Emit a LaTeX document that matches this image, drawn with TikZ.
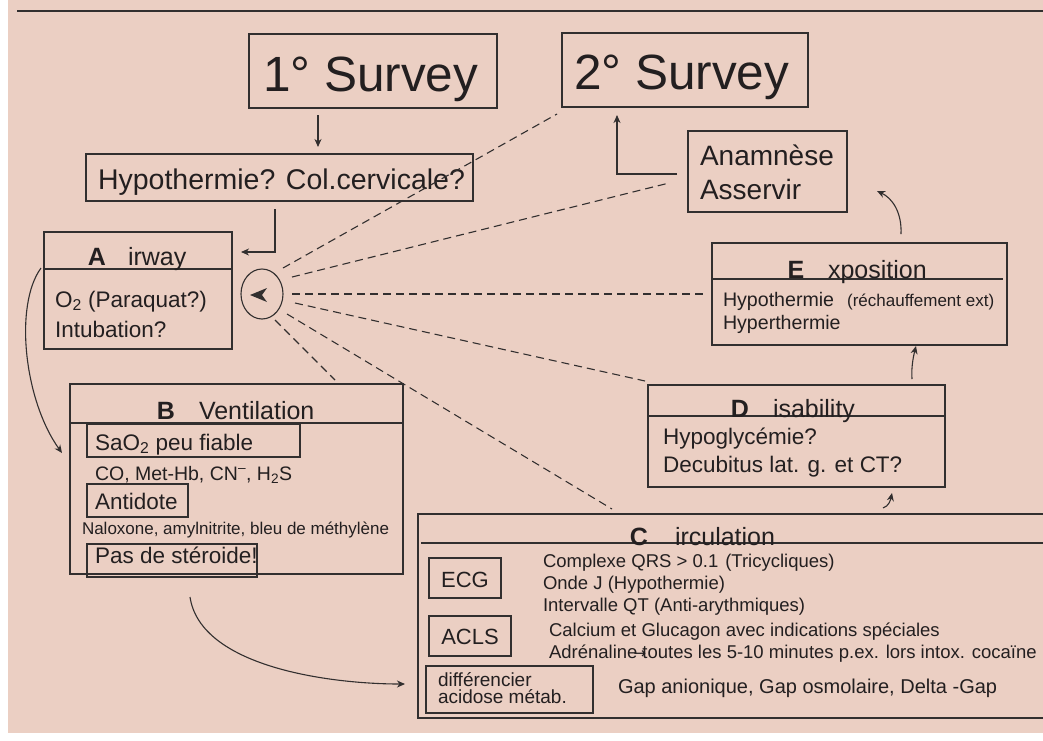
\documentclass[tikz,border=0pt]{standalone}
\usepackage{fontspec}
\setmainfont{Liberation Sans}
\newfontfamily\dejavu{DejaVu Sans}
\usetikzlibrary{arrows.meta,calc,shapes.geometric}
\definecolor{bg}{RGB}{235,207,195}
\definecolor{ln}{RGB}{50,47,47}
\definecolor{tx}{RGB}{35,31,32}
\newcommand{\fs}[1]{\fontsize{#1}{#1}\selectfont}
\begin{document}
\begin{tikzpicture}[x=1pt,y=-1pt,
  box/.style={draw=ln,line width=1.2pt,inner sep=0pt,outer sep=0pt},
  txt/.style={anchor=base west,inner sep=0pt,outer sep=0pt,text=tx},
  ctxt/.style={anchor=base,inner sep=0pt,outer sep=0pt,text=tx},
  ttl/.style={anchor=base,inner sep=0pt,outer sep=0pt,text=tx,font=\bfseries\fs{25}},
  arr/.style={draw=ln,line width=1.1pt,-{Stealth[length=8pt,width=7pt,inset=2.5pt]}},
  dl/.style={draw=ln,line width=1.1pt,dash pattern=on 8pt off 5pt},
  rule/.style={draw=ln,line width=1.2pt}
]
\useasboundingbox (0,0) rectangle (1043,740);
\fill[white] (0,0) rectangle (1043,740);
\fill[bg] (8,0) rectangle (1043,733);
\draw[rule] (17,11) -- (1043,11);

% boxes
\node[box,minimum width=248,minimum height=74] (s1) at (373,71) {};
\node[box,minimum width=246,minimum height=74] (s2) at (685,70) {};
\node[box,minimum width=387,minimum height=47] (hyp) at (279.5,177.5) {};
\node[box,minimum width=159,minimum height=81] (ana) at (767.5,171.5) {};
\node[box,minimum width=188,minimum height=117] (A) at (138,290.5) {};
\node[box,ellipse,minimum width=42,minimum height=50,line width=1.1pt] (circ) at (262,294) {};
\node[box,minimum width=333,minimum height=190] (B) at (236.5,479) {};
\node[box,minimum width=213,minimum height=33] (sat) at (193.5,440.5) {};
\node[box,minimum width=101,minimum height=33] (anti) at (137.5,500.5) {};
\node[box,minimum width=170,minimum height=33] (pas) at (172,560.5) {};
\node[box,minimum width=295,minimum height=102] (E) at (859.5,294) {};
\node[box,minimum width=297,minimum height=102] (D) at (796.5,436) {};
\node[box,minimum width=632,minimum height=204] (C) at (734,616) {};
\node[box,minimum width=72,minimum height=40] (ecg) at (465,578) {};
\node[box,minimum width=82,minimum height=40] (acls) at (470,636) {};
\node[box,minimum width=167,minimum height=47] (diff) at (509.5,689.5) {};

% header rules
\draw[rule] ($(A.north west)+(0,37)$) -- ($(A.north east)+(0,37)$);
\draw[rule] ($(B.north west)+(0,39)$) -- ($(B.north east)+(0,39)$);
\draw[rule] ($(E.north west)+(0,36)$) -- ($(E.north east)+(-4,36)$);
\draw[rule] ($(D.north west)+(0,31)$) -- ($(D.north east)+(0,31)$);
\draw[rule] ($(C.north west)+(3,29)$) -- ($(C.north east)+(0,29)$);

% texts
\node[txt,font=\fs{49.5}] (t1) at (263,91) {1° Survey};
\node[txt,font=\fs{49.5}] (t2) at (574,89) {2° Survey};
\node[txt,font=\fs{28.5}] (th) at (98,189) {Hypothermie? Col.cervicale?};
\node[txt,font=\fs{28}] (ta1) at (700,165) {Anamnèse};
\node[txt,font=\fs{28}] (ta2) at (700,199) {Asservir};

\node[ttl] (lA) at (97,265) {A};
\node[txt,font=\fs{25}] (wA) at (128,265) {irway};
\node[txt,font=\fs{22.5}] (a1) at (55,307) {O\textsubscript{2} (Paraquat?)};
\node[txt,font=\fs{22.5}] (a2) at (55,337) {Intubation?};

\node[ttl] (lB) at (166,419) {B};
\node[txt,font=\fs{25}] (wB) at (199,419) {Ventilation};
\node[txt,font=\fs{22.5}] (b1) at (95,450) {SaO\textsubscript{2} peu fiable};
\node[txt,font=\fs{19.5}] (b2) at (95,480) {CO, Met-Hb, CN\textsuperscript{–}, H\textsubscript{2}S};
\node[txt,font=\fs{22.5}] (b3) at (95,509) {Antidote};
\node[txt,font=\fs{17}] (b4) at (82,534) {Naloxone, amylnitrite, bleu de méthylène};
\node[txt,font=\fs{22.5}] (b5) at (95,563) {Pas de stéroide!};

\node[ttl] (lE) at (796,278) {E};
\node[txt,font=\fs{25}] (wE) at (828,278) {xposition};
\node[txt,font=\fs{19.6}] (e1) at (723,306) {Hypothermie\hspace{13pt}{\fs{17}(réchauffement ext)}};
\node[txt,font=\fs{19.6}] (e2) at (723,329) {Hyperthermie};

\node[ttl] (lD) at (740,417) {D};
\node[txt,font=\fs{25}] (wD) at (773,417) {isability};
\node[txt,font=\fs{22.5}] (d1) at (663,444) {Hypoglycémie?};
\node[txt,font=\fs{22.5}] (d2) at (663,472) {Decubitus lat. g. et CT?};

\node[ttl] (lC) at (639,545) {C};
\node[txt,font=\fs{25}] (wC) at (675,545) {irculation};
\node[ctxt,font=\fs{22}] (tecg) at (465,587) {ECG};
\node[ctxt,font=\fs{22}] (tacls) at (470,644) {ACLS};
\node[txt,font=\fs{19}] (f1) at (438,686) {différencier};
\node[txt,font=\fs{19}] (f2) at (438,703) {acidose métab.};
\node[txt,font=\fs{18.5}] (c1) at (543,567) {Complexe QRS > 0.1\hspace{7pt}(Tricycliques)};
\node[txt,font=\fs{18.5}] (c2) at (543,589) {Onde J (Hypothermie)};
\node[txt,font=\fs{18.5}] (c3) at (543,611) {Intervalle QT (Anti-arythmiques)};
\node[txt,font=\fs{18.5}] (c4) at (549,636) {Calcium et Glucagon avec indications spéciales};
\node[txt,font=\fs{18.5}] (c5) at (549,658) {Adrénaline\makebox[5pt][c]{\dejavu\fs{15}→}toutes les 5-10 minutes p.ex. lors intox. cocaïne};
\node[txt,font=\fs{20}] (c6) at (618,693) {Gap anionique, Gap osmolaire, Delta -Gap};

% arrowhead inside circle
\fill[ln] ($(circ.center)+(-12,1)$) -- ++(17,-7) -- ++(-5,7) -- ++(5,7) -- cycle;

% solid connectors
\draw[arr] ($(s1.south)+(-55,7)$) -- ($(hyp.north)+(38.5,-7)$);
\draw[arr] ($(hyp.south)+(-4.5,8)$) |- ($(A.north east)+(9,20)$);
\draw[arr] ($(ana.west)+(-11,2.5)$) -| ($(s2.south)+(-68,8)$);
\draw[arr] ($(E.north)+(41.5,-9)$) .. controls ($(E.north)+(42.5,-31)$) and ($(ana.east)+(45,26.5)$) .. ($(ana.east)+(30,19.5)$);
\draw[arr] ($(D.north)+(115.5,-6)$) .. controls ($(D.north)+(114.5,-19)$) and ($(E.south)+(54.5,9)$) .. ($(E.south)+(56.5,1)$);
\draw[arr] ($(C.north)+(149,-6)$) .. controls ($(C.north)+(155,-8)$) and ($(D.south)+(94,13)$) .. ($(D.south)+(95.5,6)$);
\draw[arr] ($(A.west)+(-3,-22.5)$) .. controls (14,305) and (24,400) .. ($(B.west)+(-8,-26)$);
\draw[arr] ($(B.south)+(-46.5,23)$) .. controls ($(B.south)+(-36,93)$) and ($(C.west)+(-88,68)$) .. ($(C.west)+(-13,68)$);

% dashed connectors from the circle
\coordinate (k1) at (283,268);
\coordinate (k2) at (292,277);
\coordinate (k3) at (292,294);
\coordinate (k4) at (295,303);
\coordinate (k5) at (287,314);
\coordinate (k6) at (275,320);
\draw[dl] (k1) -- ($(s2.south west)+(-5,7)$);
\draw[dl] (k2) -- ($(ana.west)+(-19,11.5)$);
\draw[dl] (k3) -- ($(E.west)+(-9,0)$);
\draw[dl] (k4) -- ($(D.north west)+(-3,-4)$);
\draw[dl] (k5) -- ($(C.north west)+(194,-5)$);
\draw[dl] (k6) -- ($(B.north west)+(265,-4)$);
\end{tikzpicture}
\end{document}
